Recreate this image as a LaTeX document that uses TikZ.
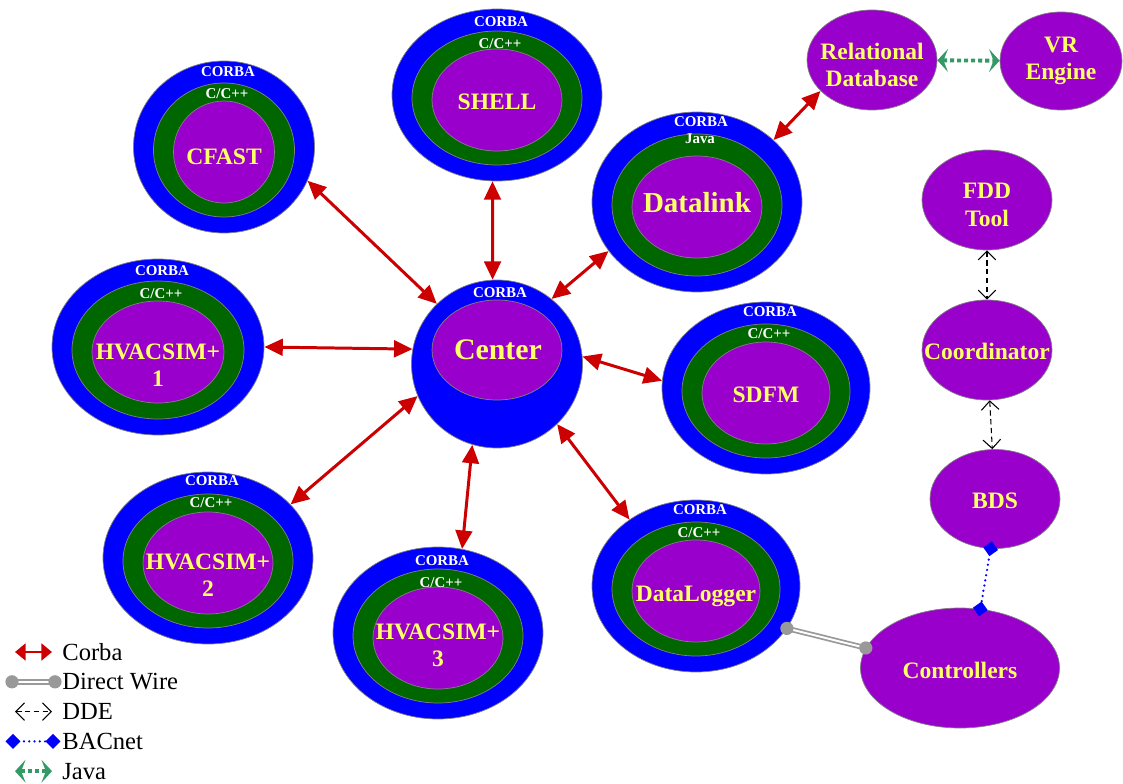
\documentclass[tikz,border=0pt]{standalone}
\usepackage{fontspec}
\setmainfont{Liberation Serif}
\usetikzlibrary{shapes.geometric,arrows.meta}
\definecolor{corbablue}{HTML}{0000FF}
\definecolor{langgreen}{HTML}{006600}
\definecolor{coreviolet}{HTML}{9900CC}
\definecolor{nameyellow}{HTML}{FFFF66}
\definecolor{corbared}{HTML}{CC0000}
\definecolor{javagreen}{HTML}{339966}
\definecolor{wiregray}{HTML}{999999}
\tikzset{
    layer/.style={ellipse,draw=gray,line width=0.4pt,inner sep=0pt},
    outerring/.style={layer,fill=corbablue},
    langring/.style={layer,fill=langgreen},
    coreell/.style={layer,fill=coreviolet},
    tiertext/.style={text=white,font=\bfseries\fontsize{8.5}{10}\selectfont,inner sep=0pt},
    nametext/.style={text=nameyellow,font=\bfseries\fontsize{13.4}{15.5}\selectfont,align=center,inner sep=0pt},
    legtext/.style={anchor=west,font=\fontsize{14}{16}\selectfont,inner sep=0pt},
    corbalink/.style={corbared,line width=1.7pt,{Triangle[length=10.5pt,width=9.5pt]}-{Triangle[length=10.5pt,width=9.5pt]}},
    smallcorba/.style={corbalink,{Triangle[length=6pt,width=9.5pt]}-{Triangle[length=6pt,width=9.5pt]}},
    javalink/.style={javagreen,line width=2.2pt,dash pattern=on 2.3pt off 1.7pt,
        {Stealth[length=6pt,width=13pt,inset=2.5pt]}-{Stealth[length=6pt,width=13pt,inset=2.5pt]}},
    ddelink/.style={black,line width=0.6pt,dash pattern=on 3pt off 2pt,
        {Straight Barb[length=5pt,width=10pt]}-{Straight Barb[length=5pt,width=10pt]}},
    bacnetlink/.style={corbablue,line width=1.4pt,dash pattern=on 0pt off 3pt,line cap=round,
        {Diamond[length=8.5pt,width=8.5pt]}-{Diamond[length=8.5pt,width=8.5pt]},
        shorten <=-4.25pt,shorten >=-4.25pt},
    wirelink/.style={wiregray,line width=1pt,double=white,double distance=1.1pt,
        {Circle[length=7.5pt]}-{Circle[length=7.5pt]},shorten <=-3.75pt,shorten >=-3.75pt}
}

\begin{document}
\begin{tikzpicture}[x=0.02cm,y=-0.02cm]
    \def\pxl{0.02cm}
    \useasboundingbox (0,0) rectangle (1123,784);
    % components: CORBA ring, language ring, core
    \foreach \n/\x/\y/\w/\h/\cy/\lang/\ly/\ty/\txt in {
        cfast/224/147/181/172/72/{C/C++}/94/157/CFAST,
        shell/497/95/210/172/22/{C/C++}/44/102/SHELL,
        hvone/158/347/212/176/271/{C/C++}/294/365/{HVACSIM+\\1},
        sdfm/766/388/208/172/312/{C/C++}/334/395/SDFM,
        hvtwo/208/558/210/172/481/{C/C++}/503/575/{HVACSIM+\\2},
        hvthree/438/633/210/172/561/{C/C++}/583/645/{HVACSIM+\\3},
        dlogger/696/586/208/172/510/{C/C++}/533/596/DataLogger,
        datalink/697/202/210/180/122/Java/139/203/{\fontsize{16.5}{18}\selectfont Datalink}%
    } {
        \node [outerring,minimum width=\w*\pxl,minimum height=\h*\pxl] (\n) at (\x,\y) {};
        \node [langring,minimum width=(\w-40)*\pxl,minimum height=(\h-38)*\pxl] (\n-lang) at (\x,{\y+3}) {};
        \node [coreell,minimum width=(\w-80)*\pxl,minimum height=102*\pxl] (\n-core) at (\x,{\y+5}) {};
        \node [tiertext] (\n-corba) at ({\x+4},\cy) {CORBA};
        \node [tiertext] (\n-tier) at ({\x+3},\ly) {\lang};
        \node [nametext] (\n-text) at (\x,\ty) {\txt};
    }
    \node [outerring,minimum width=171*\pxl,minimum height=168*\pxl] (center) at (497,364) {};
    \node [coreell,minimum width=130*\pxl,minimum height=100*\pxl] (center-core) at (497,350) {};
    \node [tiertext] (center-corba) at (500,293) {CORBA};
    \node [nametext,font=\bfseries\fontsize{17}{19}\selectfont] (center-text) at (498,350) {Center};
    % plain purple units
    \foreach \n/\x/\y/\w/\h/\ty/\txt in {
        reldb/872/60/130/100/65/{Relational\\Database},
        vr/1061/61/122/98/61/{VR\\Engine},
        fdd/987/200/130/100/205/{FDD\\Tool},
        coord/987/350/130/100/351/Coordinator,
        bds/995/499/130/99/501/BDS,
        ctrl/960/668/199/120/670/Controllers%
    } {
        \node [coreell,minimum width=\w*\pxl,minimum height=\h*\pxl] (\n) at (\x,\y) {};
        \node [nametext] (\n-text) at (\x,\ty) {\txt};
    }
    % links
    \draw [corbalink] (cfast.-22) -- (center.135);
    \draw [corbalink] (shell.-93) -- (center.93);
    \draw [corbalink] (datalink.209) -- (center.50);
    \draw [corbalink] (datalink.39) -- (reldb.211);
    \draw [corbalink] (hvone.0) -- (center.170);
    \draw [corbalink] (sdfm.176) -- (center.5);
    \draw [corbalink] (hvtwo.33) -- (center.202);
    \draw [corbalink] (hvthree.74) -- (center.253);
    \draw [corbalink] (dlogger.135) -- (center.-45);
    \draw [javalink] (reldb) -- (vr);
    \draw [ddelink] (fdd) -- (coord);
    \draw [ddelink] (coord) -- (bds);
    \draw [bacnetlink] (bds.-95) -- (ctrl.71);
    \draw [wirelink] (dlogger.-25) -- (ctrl.168);
    % legend
    \foreach \i/\sty/\a/\b/\lbl in {
        0/smallcorba/15/52/Corba,
        1/wirelink/12/55/Direct Wire,
        2/ddelink/15/52/DDE,
        3/bacnetlink/13/53/BACnet,
        4/javalink/15/52/Java%
    } {
        \coordinate (leg\i-a) at (\a,{652+29.8*\i});
        \coordinate (leg\i-b) at (\b,{652+29.8*\i});
        \draw [\sty] (leg\i-a) -- (leg\i-b);
        \node [legtext] (leg\i-text) at (62,{652+29.8*\i}) {\lbl};
    }
\end{tikzpicture}
\end{document}
